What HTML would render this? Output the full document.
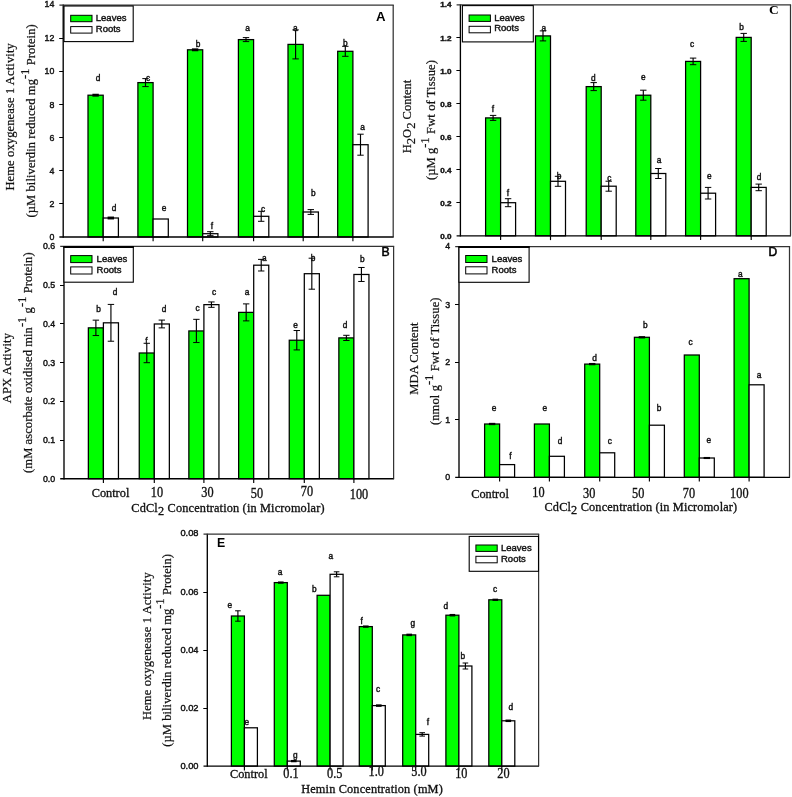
<!DOCTYPE html>
<html><head><meta charset="utf-8"><title>chart</title>
<style>
html,body{margin:0;padding:0;background:#fff;}
svg{display:block;filter:blur(0.35px)}
</style></head><body>
<svg width="792" height="797" viewBox="0 0 792 797">
<rect width="792" height="797" fill="#fff"/>
<rect x="88.00" y="95.20" width="15.20" height="141.80" fill="#00ff00" stroke="#000" stroke-width="1.25"/>
<rect x="103.20" y="218.00" width="15.20" height="19.00" fill="#fff" stroke="#000" stroke-width="1.25"/>
<line x1="92.40" y1="95.20" x2="98.80" y2="95.20" stroke="#000" stroke-width="2.9000000000000004"/>
<line x1="107.60" y1="218.00" x2="114.00" y2="218.00" stroke="#000" stroke-width="2.9000000000000004"/>
<rect x="137.90" y="82.60" width="15.20" height="154.40" fill="#00ff00" stroke="#000" stroke-width="1.25"/>
<rect x="153.10" y="219.00" width="15.20" height="18.00" fill="#fff" stroke="#000" stroke-width="1.25"/>
<line x1="145.50" y1="78.60" x2="145.50" y2="86.60" stroke="#000" stroke-width="1.15"/>
<line x1="142.30" y1="78.60" x2="148.70" y2="78.60" stroke="#000" stroke-width="1.0"/>
<line x1="142.30" y1="86.60" x2="148.70" y2="86.60" stroke="#000" stroke-width="1.0"/>
<rect x="187.50" y="49.80" width="15.20" height="187.20" fill="#00ff00" stroke="#000" stroke-width="1.25"/>
<rect x="202.70" y="233.70" width="15.20" height="3.30" fill="#fff" stroke="#000" stroke-width="1.25"/>
<line x1="191.90" y1="49.80" x2="198.30" y2="49.80" stroke="#000" stroke-width="2.9000000000000004"/>
<line x1="210.30" y1="231.70" x2="210.30" y2="235.70" stroke="#000" stroke-width="1.15"/>
<line x1="207.10" y1="231.70" x2="213.50" y2="231.70" stroke="#000" stroke-width="1.0"/>
<line x1="207.10" y1="235.70" x2="213.50" y2="235.70" stroke="#000" stroke-width="1.0"/>
<rect x="238.40" y="39.60" width="15.20" height="197.40" fill="#00ff00" stroke="#000" stroke-width="1.25"/>
<rect x="253.60" y="216.30" width="15.20" height="20.70" fill="#fff" stroke="#000" stroke-width="1.25"/>
<line x1="246.00" y1="37.60" x2="246.00" y2="41.60" stroke="#000" stroke-width="1.15"/>
<line x1="242.80" y1="37.60" x2="249.20" y2="37.60" stroke="#000" stroke-width="1.0"/>
<line x1="242.80" y1="41.60" x2="249.20" y2="41.60" stroke="#000" stroke-width="1.0"/>
<line x1="261.20" y1="211.30" x2="261.20" y2="221.30" stroke="#000" stroke-width="1.15"/>
<line x1="258.00" y1="211.30" x2="264.40" y2="211.30" stroke="#000" stroke-width="1.0"/>
<line x1="258.00" y1="221.30" x2="264.40" y2="221.30" stroke="#000" stroke-width="1.0"/>
<rect x="288.00" y="44.40" width="15.20" height="192.60" fill="#00ff00" stroke="#000" stroke-width="1.25"/>
<rect x="303.20" y="212.00" width="15.20" height="25.00" fill="#fff" stroke="#000" stroke-width="1.25"/>
<line x1="295.60" y1="29.90" x2="295.60" y2="58.90" stroke="#000" stroke-width="1.15"/>
<line x1="292.40" y1="29.90" x2="298.80" y2="29.90" stroke="#000" stroke-width="1.0"/>
<line x1="292.40" y1="58.90" x2="298.80" y2="58.90" stroke="#000" stroke-width="1.0"/>
<line x1="310.80" y1="209.60" x2="310.80" y2="214.40" stroke="#000" stroke-width="1.15"/>
<line x1="307.60" y1="209.60" x2="314.00" y2="209.60" stroke="#000" stroke-width="1.0"/>
<line x1="307.60" y1="214.40" x2="314.00" y2="214.40" stroke="#000" stroke-width="1.0"/>
<rect x="337.70" y="51.30" width="15.20" height="185.70" fill="#00ff00" stroke="#000" stroke-width="1.25"/>
<rect x="352.90" y="144.70" width="15.20" height="92.30" fill="#fff" stroke="#000" stroke-width="1.25"/>
<line x1="345.30" y1="46.30" x2="345.30" y2="56.30" stroke="#000" stroke-width="1.15"/>
<line x1="342.10" y1="46.30" x2="348.50" y2="46.30" stroke="#000" stroke-width="1.0"/>
<line x1="342.10" y1="56.30" x2="348.50" y2="56.30" stroke="#000" stroke-width="1.0"/>
<line x1="360.50" y1="134.20" x2="360.50" y2="155.20" stroke="#000" stroke-width="1.15"/>
<line x1="357.30" y1="134.20" x2="363.70" y2="134.20" stroke="#000" stroke-width="1.0"/>
<line x1="357.30" y1="155.20" x2="363.70" y2="155.20" stroke="#000" stroke-width="1.0"/>
<clipPath id="cpA"><rect x="63.2" y="5.2" width="330.0" height="231.8"/></clipPath>
<g clip-path="url(#cpA)">
<text x="376.00" y="20.50" font-family="Liberation Sans, sans-serif" font-size="13.2" text-anchor="start" font-weight="bold" fill="#000" stroke="#000" stroke-width="0">A</text>
</g>
<line x1="63.20" y1="4.60" x2="63.20" y2="237.70" stroke="#000" stroke-width="1.35"/>
<line x1="59.40" y1="237.00" x2="393.70" y2="237.00" stroke="#000" stroke-width="1.35"/>
<line x1="59.40" y1="5.00" x2="393.80" y2="5.00" stroke="#333" stroke-width="1.25"/>
<line x1="393.20" y1="5.00" x2="393.20" y2="237.00" stroke="#333" stroke-width="1.25"/>
<line x1="59.20" y1="203.50" x2="63.20" y2="203.50" stroke="#000" stroke-width="1.0"/>
<line x1="59.20" y1="170.50" x2="63.20" y2="170.50" stroke="#000" stroke-width="1.0"/>
<line x1="59.20" y1="137.50" x2="63.20" y2="137.50" stroke="#000" stroke-width="1.0"/>
<line x1="59.20" y1="104.50" x2="63.20" y2="104.50" stroke="#000" stroke-width="1.0"/>
<line x1="59.20" y1="71.50" x2="63.20" y2="71.50" stroke="#000" stroke-width="1.0"/>
<line x1="59.20" y1="38.50" x2="63.20" y2="38.50" stroke="#000" stroke-width="1.0"/>
<text x="54.40" y="240.10" font-family="Liberation Sans, sans-serif" font-size="8.8" text-anchor="end" font-weight="normal" fill="#111" stroke="#111" stroke-width="0.42">0</text>
<text x="54.40" y="206.96" font-family="Liberation Sans, sans-serif" font-size="8.8" text-anchor="end" font-weight="normal" fill="#111" stroke="#111" stroke-width="0.42">2</text>
<text x="54.40" y="173.82" font-family="Liberation Sans, sans-serif" font-size="8.8" text-anchor="end" font-weight="normal" fill="#111" stroke="#111" stroke-width="0.42">4</text>
<text x="54.40" y="140.68" font-family="Liberation Sans, sans-serif" font-size="8.8" text-anchor="end" font-weight="normal" fill="#111" stroke="#111" stroke-width="0.42">6</text>
<text x="54.40" y="107.54" font-family="Liberation Sans, sans-serif" font-size="8.8" text-anchor="end" font-weight="normal" fill="#111" stroke="#111" stroke-width="0.42">8</text>
<text x="54.40" y="74.40" font-family="Liberation Sans, sans-serif" font-size="8.8" text-anchor="end" font-weight="normal" fill="#111" stroke="#111" stroke-width="0.42">10</text>
<text x="54.40" y="41.26" font-family="Liberation Sans, sans-serif" font-size="8.8" text-anchor="end" font-weight="normal" fill="#111" stroke="#111" stroke-width="0.42">12</text>
<text x="54.40" y="7.42" font-family="Liberation Sans, sans-serif" font-size="8.8" text-anchor="end" font-weight="normal" fill="#111" stroke="#111" stroke-width="0.42">14</text>
<line x1="103.20" y1="237.00" x2="103.20" y2="241.30" stroke="#000" stroke-width="1.15"/>
<line x1="153.10" y1="237.00" x2="153.10" y2="241.30" stroke="#000" stroke-width="1.15"/>
<line x1="202.70" y1="237.00" x2="202.70" y2="241.30" stroke="#000" stroke-width="1.15"/>
<line x1="253.60" y1="237.00" x2="253.60" y2="241.30" stroke="#000" stroke-width="1.15"/>
<line x1="303.20" y1="237.00" x2="303.20" y2="241.30" stroke="#000" stroke-width="1.15"/>
<line x1="352.90" y1="237.00" x2="352.90" y2="241.30" stroke="#000" stroke-width="1.15"/>
<rect x="64.00" y="6.00" width="69.20" height="35.60" fill="#fff" stroke="#000" stroke-width="1.1"/>
<rect x="70.70" y="15.30" width="21.30" height="6.40" fill="#00ff00" stroke="#000" stroke-width="1.0"/>
<rect x="70.70" y="26.60" width="21.30" height="6.50" fill="#fff" stroke="#000" stroke-width="1.0"/>
<text x="95.80" y="20.90" font-family="Liberation Sans, sans-serif" font-size="9.5" text-anchor="start" font-weight="normal" fill="#111" stroke="#111" stroke-width="0.42">Leaves</text>
<text x="95.80" y="31.60" font-family="Liberation Sans, sans-serif" font-size="9.5" text-anchor="start" font-weight="normal" fill="#111" stroke="#111" stroke-width="0.42">Roots</text>
<text x="98.00" y="80.90" font-family="Liberation Sans, sans-serif" font-size="8.3" text-anchor="middle" font-weight="normal" fill="#111" stroke="#111" stroke-width="0.42">d</text>
<text x="148.00" y="81.10" font-family="Liberation Sans, sans-serif" font-size="8.3" text-anchor="middle" font-weight="normal" fill="#111" stroke="#111" stroke-width="0.42">c</text>
<text x="198.00" y="47.10" font-family="Liberation Sans, sans-serif" font-size="8.3" text-anchor="middle" font-weight="normal" fill="#111" stroke="#111" stroke-width="0.42">b</text>
<text x="247.60" y="30.90" font-family="Liberation Sans, sans-serif" font-size="8.3" text-anchor="middle" font-weight="normal" fill="#111" stroke="#111" stroke-width="0.42">a</text>
<text x="295.40" y="30.50" font-family="Liberation Sans, sans-serif" font-size="8.3" text-anchor="middle" font-weight="normal" fill="#111" stroke="#111" stroke-width="0.42">a</text>
<text x="345.40" y="46.30" font-family="Liberation Sans, sans-serif" font-size="8.3" text-anchor="middle" font-weight="normal" fill="#111" stroke="#111" stroke-width="0.42">b</text>
<text x="114.00" y="211.40" font-family="Liberation Sans, sans-serif" font-size="8.3" text-anchor="middle" font-weight="normal" fill="#111" stroke="#111" stroke-width="0.42">d</text>
<text x="164.00" y="211.20" font-family="Liberation Sans, sans-serif" font-size="8.3" text-anchor="middle" font-weight="normal" fill="#111" stroke="#111" stroke-width="0.42">e</text>
<text x="212.00" y="228.90" font-family="Liberation Sans, sans-serif" font-size="8.3" text-anchor="middle" font-weight="normal" fill="#111" stroke="#111" stroke-width="0.42">f</text>
<text x="263.20" y="212.30" font-family="Liberation Sans, sans-serif" font-size="8.3" text-anchor="middle" font-weight="normal" fill="#111" stroke="#111" stroke-width="0.42">c</text>
<text x="313.20" y="195.90" font-family="Liberation Sans, sans-serif" font-size="8.3" text-anchor="middle" font-weight="normal" fill="#111" stroke="#111" stroke-width="0.42">b</text>
<text x="362.50" y="129.90" font-family="Liberation Sans, sans-serif" font-size="8.3" text-anchor="middle" font-weight="normal" fill="#111" stroke="#111" stroke-width="0.42">a</text>
<text x="14.00" y="190.60" font-family="Liberation Serif, serif" font-size="12.5" text-anchor="start" font-weight="normal" fill="#111" stroke="#111" stroke-width="0.22" transform="rotate(-90 14.00 190.60)" textLength="147.4" lengthAdjust="spacing">Heme oxygenease 1 Activity</text>
<text x="35.00" y="217.50" font-family="Liberation Serif, serif" font-size="12.5" text-anchor="start" font-weight="normal" fill="#111" stroke="#111" stroke-width="0.22" transform="rotate(-90 35.00 217.50)" textLength="193.2" lengthAdjust="spacing">(&#181;M biliverdin reduced mg<tspan font-size="98%" dy="-6.4">-1</tspan><tspan dy="6.4">&#8203;</tspan> Protein)</text>
<rect x="88.35" y="327.85" width="15.05" height="150.85" fill="#00ff00" stroke="#000" stroke-width="1.25"/>
<rect x="103.40" y="322.82" width="15.05" height="155.88" fill="#fff" stroke="#000" stroke-width="1.25"/>
<line x1="95.88" y1="320.15" x2="95.88" y2="335.55" stroke="#000" stroke-width="1.15"/>
<line x1="92.67" y1="320.15" x2="99.08" y2="320.15" stroke="#000" stroke-width="1.0"/>
<line x1="92.67" y1="335.55" x2="99.08" y2="335.55" stroke="#000" stroke-width="1.0"/>
<line x1="110.93" y1="304.42" x2="110.93" y2="341.22" stroke="#000" stroke-width="1.15"/>
<line x1="107.73" y1="304.42" x2="114.13" y2="304.42" stroke="#000" stroke-width="1.0"/>
<line x1="107.73" y1="341.22" x2="114.13" y2="341.22" stroke="#000" stroke-width="1.0"/>
<rect x="139.25" y="352.99" width="15.05" height="125.71" fill="#00ff00" stroke="#000" stroke-width="1.25"/>
<rect x="154.30" y="323.98" width="15.05" height="154.72" fill="#fff" stroke="#000" stroke-width="1.25"/>
<line x1="146.78" y1="343.29" x2="146.78" y2="362.69" stroke="#000" stroke-width="1.15"/>
<line x1="143.58" y1="343.29" x2="149.97" y2="343.29" stroke="#000" stroke-width="1.0"/>
<line x1="143.58" y1="362.69" x2="149.97" y2="362.69" stroke="#000" stroke-width="1.0"/>
<line x1="161.83" y1="320.08" x2="161.83" y2="327.88" stroke="#000" stroke-width="1.15"/>
<line x1="158.63" y1="320.08" x2="165.03" y2="320.08" stroke="#000" stroke-width="1.0"/>
<line x1="158.63" y1="327.88" x2="165.03" y2="327.88" stroke="#000" stroke-width="1.0"/>
<rect x="188.85" y="330.94" width="15.05" height="147.76" fill="#00ff00" stroke="#000" stroke-width="1.25"/>
<rect x="203.90" y="304.64" width="15.05" height="174.06" fill="#fff" stroke="#000" stroke-width="1.25"/>
<line x1="196.38" y1="319.34" x2="196.38" y2="342.54" stroke="#000" stroke-width="1.15"/>
<line x1="193.18" y1="319.34" x2="199.57" y2="319.34" stroke="#000" stroke-width="1.0"/>
<line x1="193.18" y1="342.54" x2="199.57" y2="342.54" stroke="#000" stroke-width="1.0"/>
<line x1="211.43" y1="301.94" x2="211.43" y2="307.34" stroke="#000" stroke-width="1.15"/>
<line x1="208.23" y1="301.94" x2="214.62" y2="301.94" stroke="#000" stroke-width="1.0"/>
<line x1="208.23" y1="307.34" x2="214.62" y2="307.34" stroke="#000" stroke-width="1.0"/>
<rect x="238.65" y="312.38" width="15.05" height="166.32" fill="#00ff00" stroke="#000" stroke-width="1.25"/>
<rect x="253.70" y="265.19" width="15.05" height="213.51" fill="#fff" stroke="#000" stroke-width="1.25"/>
<line x1="246.17" y1="303.88" x2="246.17" y2="320.88" stroke="#000" stroke-width="1.15"/>
<line x1="242.97" y1="303.88" x2="249.37" y2="303.88" stroke="#000" stroke-width="1.0"/>
<line x1="242.97" y1="320.88" x2="249.37" y2="320.88" stroke="#000" stroke-width="1.0"/>
<line x1="261.22" y1="259.39" x2="261.22" y2="270.99" stroke="#000" stroke-width="1.15"/>
<line x1="258.02" y1="259.39" x2="264.42" y2="259.39" stroke="#000" stroke-width="1.0"/>
<line x1="258.02" y1="270.99" x2="264.42" y2="270.99" stroke="#000" stroke-width="1.0"/>
<rect x="289.25" y="340.23" width="15.05" height="138.47" fill="#00ff00" stroke="#000" stroke-width="1.25"/>
<rect x="304.30" y="273.70" width="15.05" height="205.00" fill="#fff" stroke="#000" stroke-width="1.25"/>
<line x1="296.78" y1="330.53" x2="296.78" y2="349.93" stroke="#000" stroke-width="1.15"/>
<line x1="293.58" y1="330.53" x2="299.98" y2="330.53" stroke="#000" stroke-width="1.0"/>
<line x1="293.58" y1="349.93" x2="299.98" y2="349.93" stroke="#000" stroke-width="1.0"/>
<line x1="311.82" y1="258.20" x2="311.82" y2="289.20" stroke="#000" stroke-width="1.15"/>
<line x1="308.62" y1="258.20" x2="315.02" y2="258.20" stroke="#000" stroke-width="1.0"/>
<line x1="308.62" y1="289.20" x2="315.02" y2="289.20" stroke="#000" stroke-width="1.0"/>
<rect x="338.85" y="337.90" width="15.05" height="140.80" fill="#00ff00" stroke="#000" stroke-width="1.25"/>
<rect x="353.90" y="274.47" width="15.05" height="204.23" fill="#fff" stroke="#000" stroke-width="1.25"/>
<line x1="346.38" y1="335.30" x2="346.38" y2="340.50" stroke="#000" stroke-width="1.15"/>
<line x1="343.18" y1="335.30" x2="349.57" y2="335.30" stroke="#000" stroke-width="1.0"/>
<line x1="343.18" y1="340.50" x2="349.57" y2="340.50" stroke="#000" stroke-width="1.0"/>
<line x1="361.42" y1="267.47" x2="361.42" y2="281.47" stroke="#000" stroke-width="1.15"/>
<line x1="358.22" y1="267.47" x2="364.62" y2="267.47" stroke="#000" stroke-width="1.0"/>
<line x1="358.22" y1="281.47" x2="364.62" y2="281.47" stroke="#000" stroke-width="1.0"/>
<clipPath id="cpB"><rect x="64.0" y="246.6" width="329.6" height="232.1"/></clipPath>
<g clip-path="url(#cpB)">
<text x="381.60" y="256.00" font-family="Liberation Sans, sans-serif" font-size="12.2" text-anchor="start" font-weight="normal" fill="#000" stroke="#000" stroke-width="0.55">B</text>
</g>
<line x1="64.00" y1="246.00" x2="64.00" y2="479.40" stroke="#000" stroke-width="1.35"/>
<line x1="60.20" y1="478.70" x2="394.10" y2="478.70" stroke="#000" stroke-width="1.35"/>
<line x1="60.20" y1="246.40" x2="394.20" y2="246.40" stroke="#333" stroke-width="1.25"/>
<line x1="393.60" y1="246.40" x2="393.60" y2="478.70" stroke="#333" stroke-width="1.25"/>
<line x1="60.00" y1="440.50" x2="64.00" y2="440.50" stroke="#000" stroke-width="1.0"/>
<line x1="60.00" y1="401.50" x2="64.00" y2="401.50" stroke="#000" stroke-width="1.0"/>
<line x1="60.00" y1="362.50" x2="64.00" y2="362.50" stroke="#000" stroke-width="1.0"/>
<line x1="60.00" y1="323.50" x2="64.00" y2="323.50" stroke="#000" stroke-width="1.0"/>
<line x1="60.00" y1="285.50" x2="64.00" y2="285.50" stroke="#000" stroke-width="1.0"/>
<text x="55.20" y="481.80" font-family="Liberation Sans, sans-serif" font-size="8.8" text-anchor="end" font-weight="normal" fill="#111" stroke="#111" stroke-width="0.42">0.0</text>
<text x="55.20" y="443.12" font-family="Liberation Sans, sans-serif" font-size="8.8" text-anchor="end" font-weight="normal" fill="#111" stroke="#111" stroke-width="0.42">0.1</text>
<text x="55.20" y="404.44" font-family="Liberation Sans, sans-serif" font-size="8.8" text-anchor="end" font-weight="normal" fill="#111" stroke="#111" stroke-width="0.42">0.2</text>
<text x="55.20" y="365.76" font-family="Liberation Sans, sans-serif" font-size="8.8" text-anchor="end" font-weight="normal" fill="#111" stroke="#111" stroke-width="0.42">0.3</text>
<text x="55.20" y="327.08" font-family="Liberation Sans, sans-serif" font-size="8.8" text-anchor="end" font-weight="normal" fill="#111" stroke="#111" stroke-width="0.42">0.4</text>
<text x="55.20" y="288.40" font-family="Liberation Sans, sans-serif" font-size="8.8" text-anchor="end" font-weight="normal" fill="#111" stroke="#111" stroke-width="0.42">0.5</text>
<text x="55.20" y="249.02" font-family="Liberation Sans, sans-serif" font-size="8.8" text-anchor="end" font-weight="normal" fill="#111" stroke="#111" stroke-width="0.42">0.6</text>
<line x1="103.40" y1="478.70" x2="103.40" y2="483.00" stroke="#000" stroke-width="1.15"/>
<line x1="154.30" y1="478.70" x2="154.30" y2="483.00" stroke="#000" stroke-width="1.15"/>
<line x1="203.90" y1="478.70" x2="203.90" y2="483.00" stroke="#000" stroke-width="1.15"/>
<line x1="253.70" y1="478.70" x2="253.70" y2="483.00" stroke="#000" stroke-width="1.15"/>
<line x1="304.30" y1="478.70" x2="304.30" y2="483.00" stroke="#000" stroke-width="1.15"/>
<line x1="353.90" y1="478.70" x2="353.90" y2="483.00" stroke="#000" stroke-width="1.15"/>
<rect x="64.00" y="246.60" width="69.30" height="35.60" fill="#fff" stroke="#000" stroke-width="1.1"/>
<rect x="70.70" y="255.60" width="21.30" height="7.00" fill="#00ff00" stroke="#000" stroke-width="1.0"/>
<rect x="70.70" y="266.90" width="21.30" height="7.10" fill="#fff" stroke="#000" stroke-width="1.0"/>
<text x="96.60" y="262.20" font-family="Liberation Sans, sans-serif" font-size="9.5" text-anchor="start" font-weight="normal" fill="#111" stroke="#111" stroke-width="0.42">Leaves</text>
<text x="96.60" y="272.90" font-family="Liberation Sans, sans-serif" font-size="9.5" text-anchor="start" font-weight="normal" fill="#111" stroke="#111" stroke-width="0.42">Roots</text>
<line x1="63.50" y1="246.90" x2="133.80" y2="246.90" stroke="#000" stroke-width="2.0"/>
<text x="98.50" y="311.60" font-family="Liberation Sans, sans-serif" font-size="8.3" text-anchor="middle" font-weight="normal" fill="#111" stroke="#111" stroke-width="0.42">b</text>
<text x="146.50" y="343.50" font-family="Liberation Sans, sans-serif" font-size="8.3" text-anchor="middle" font-weight="normal" fill="#111" stroke="#111" stroke-width="0.42">f</text>
<text x="197.50" y="311.30" font-family="Liberation Sans, sans-serif" font-size="8.3" text-anchor="middle" font-weight="normal" fill="#111" stroke="#111" stroke-width="0.42">c</text>
<text x="247.10" y="295.30" font-family="Liberation Sans, sans-serif" font-size="8.3" text-anchor="middle" font-weight="normal" fill="#111" stroke="#111" stroke-width="0.42">a</text>
<text x="295.60" y="327.90" font-family="Liberation Sans, sans-serif" font-size="8.3" text-anchor="middle" font-weight="normal" fill="#111" stroke="#111" stroke-width="0.42">e</text>
<text x="345.10" y="328.30" font-family="Liberation Sans, sans-serif" font-size="8.3" text-anchor="middle" font-weight="normal" fill="#111" stroke="#111" stroke-width="0.42">d</text>
<text x="115.00" y="294.90" font-family="Liberation Sans, sans-serif" font-size="8.3" text-anchor="middle" font-weight="normal" fill="#111" stroke="#111" stroke-width="0.42">d</text>
<text x="164.00" y="311.60" font-family="Liberation Sans, sans-serif" font-size="8.3" text-anchor="middle" font-weight="normal" fill="#111" stroke="#111" stroke-width="0.42">d</text>
<text x="214.00" y="294.90" font-family="Liberation Sans, sans-serif" font-size="8.3" text-anchor="middle" font-weight="normal" fill="#111" stroke="#111" stroke-width="0.42">c</text>
<text x="264.20" y="261.30" font-family="Liberation Sans, sans-serif" font-size="8.3" text-anchor="middle" font-weight="normal" fill="#111" stroke="#111" stroke-width="0.42">a</text>
<text x="313.00" y="261.30" font-family="Liberation Sans, sans-serif" font-size="8.3" text-anchor="middle" font-weight="normal" fill="#111" stroke="#111" stroke-width="0.42">b</text>
<text x="362.40" y="261.70" font-family="Liberation Sans, sans-serif" font-size="8.3" text-anchor="middle" font-weight="normal" fill="#111" stroke="#111" stroke-width="0.42">b</text>
<text x="110.50" y="497.30" font-family="Liberation Serif, serif" font-size="12.3" text-anchor="middle" font-weight="normal" fill="#111" stroke="#111" stroke-width="0.32" textLength="37.6" lengthAdjust="spacing">Control</text>
<g transform="translate(157.00 496.50) scale(1 1.12)">
<text x="0.00" y="0.00" font-family="Liberation Serif, serif" font-size="12.3" text-anchor="middle" font-weight="normal" fill="#111" stroke="#111" stroke-width="0.32">10</text>
</g>
<g transform="translate(207.50 497.00) scale(1 1.12)">
<text x="0.00" y="0.00" font-family="Liberation Serif, serif" font-size="12.3" text-anchor="middle" font-weight="normal" fill="#111" stroke="#111" stroke-width="0.32">30</text>
</g>
<g transform="translate(257.00 497.50) scale(1 1.12)">
<text x="0.00" y="0.00" font-family="Liberation Serif, serif" font-size="12.3" text-anchor="middle" font-weight="normal" fill="#111" stroke="#111" stroke-width="0.32">50</text>
</g>
<g transform="translate(307.00 496.00) scale(1 1.12)">
<text x="0.00" y="0.00" font-family="Liberation Serif, serif" font-size="12.3" text-anchor="middle" font-weight="normal" fill="#111" stroke="#111" stroke-width="0.32">70</text>
</g>
<g transform="translate(359.00 498.50) scale(1 1.12)">
<text x="0.00" y="0.00" font-family="Liberation Serif, serif" font-size="12.3" text-anchor="middle" font-weight="normal" fill="#111" stroke="#111" stroke-width="0.32">100</text>
</g>
<text x="11.40" y="403.20" font-family="Liberation Serif, serif" font-size="12.5" text-anchor="start" font-weight="normal" fill="#111" stroke="#111" stroke-width="0.22" transform="rotate(-90 11.40 403.20)" textLength="70.1" lengthAdjust="spacing">APX Activity</text>
<text x="32.20" y="472.90" font-family="Liberation Serif, serif" font-size="12.5" text-anchor="start" font-weight="normal" fill="#111" stroke="#111" stroke-width="0.22" transform="rotate(-90 32.20 472.90)" textLength="220.5" lengthAdjust="spacing">(mM ascorbate oxidised min<tspan font-size="98%" dy="-6.4">-1</tspan><tspan dy="6.4">&#8203;</tspan> g<tspan font-size="98%" dy="-6.4">-1</tspan><tspan dy="6.4">&#8203;</tspan> Protein)</text>
<text x="131.30" y="511.50" font-family="Liberation Serif, serif" font-size="12.3" text-anchor="start" font-weight="normal" fill="#111" stroke="#111" stroke-width="0.32" textLength="193.2" lengthAdjust="spacing">CdCl<tspan font-size="100%" dy="3.4">2</tspan><tspan dy="-3.4">&#8203;</tspan> Concentration (in Micromolar)</text>
<rect x="485.60" y="117.90" width="15.00" height="117.90" fill="#00ff00" stroke="#000" stroke-width="1.25"/>
<rect x="500.60" y="202.70" width="15.00" height="33.10" fill="#fff" stroke="#000" stroke-width="1.25"/>
<line x1="493.10" y1="115.40" x2="493.10" y2="120.40" stroke="#000" stroke-width="1.15"/>
<line x1="489.90" y1="115.40" x2="496.30" y2="115.40" stroke="#000" stroke-width="1.0"/>
<line x1="489.90" y1="120.40" x2="496.30" y2="120.40" stroke="#000" stroke-width="1.0"/>
<line x1="508.10" y1="198.70" x2="508.10" y2="206.70" stroke="#000" stroke-width="1.15"/>
<line x1="504.90" y1="198.70" x2="511.30" y2="198.70" stroke="#000" stroke-width="1.0"/>
<line x1="504.90" y1="206.70" x2="511.30" y2="206.70" stroke="#000" stroke-width="1.0"/>
<rect x="535.50" y="35.90" width="15.00" height="199.90" fill="#00ff00" stroke="#000" stroke-width="1.25"/>
<rect x="550.50" y="181.30" width="15.00" height="54.50" fill="#fff" stroke="#000" stroke-width="1.25"/>
<line x1="543.00" y1="30.90" x2="543.00" y2="40.90" stroke="#000" stroke-width="1.15"/>
<line x1="539.80" y1="30.90" x2="546.20" y2="30.90" stroke="#000" stroke-width="1.0"/>
<line x1="539.80" y1="40.90" x2="546.20" y2="40.90" stroke="#000" stroke-width="1.0"/>
<line x1="558.00" y1="176.30" x2="558.00" y2="186.30" stroke="#000" stroke-width="1.15"/>
<line x1="554.80" y1="176.30" x2="561.20" y2="176.30" stroke="#000" stroke-width="1.0"/>
<line x1="554.80" y1="186.30" x2="561.20" y2="186.30" stroke="#000" stroke-width="1.0"/>
<rect x="586.20" y="86.60" width="15.00" height="149.20" fill="#00ff00" stroke="#000" stroke-width="1.25"/>
<rect x="601.20" y="186.20" width="15.00" height="49.60" fill="#fff" stroke="#000" stroke-width="1.25"/>
<line x1="593.70" y1="82.60" x2="593.70" y2="90.60" stroke="#000" stroke-width="1.15"/>
<line x1="590.50" y1="82.60" x2="596.90" y2="82.60" stroke="#000" stroke-width="1.0"/>
<line x1="590.50" y1="90.60" x2="596.90" y2="90.60" stroke="#000" stroke-width="1.0"/>
<line x1="608.70" y1="181.20" x2="608.70" y2="191.20" stroke="#000" stroke-width="1.15"/>
<line x1="605.50" y1="181.20" x2="611.90" y2="181.20" stroke="#000" stroke-width="1.0"/>
<line x1="605.50" y1="191.20" x2="611.90" y2="191.20" stroke="#000" stroke-width="1.0"/>
<rect x="635.80" y="95.20" width="15.00" height="140.60" fill="#00ff00" stroke="#000" stroke-width="1.25"/>
<rect x="650.80" y="173.50" width="15.00" height="62.30" fill="#fff" stroke="#000" stroke-width="1.25"/>
<line x1="643.30" y1="90.20" x2="643.30" y2="100.20" stroke="#000" stroke-width="1.15"/>
<line x1="640.10" y1="90.20" x2="646.50" y2="90.20" stroke="#000" stroke-width="1.0"/>
<line x1="640.10" y1="100.20" x2="646.50" y2="100.20" stroke="#000" stroke-width="1.0"/>
<line x1="658.30" y1="168.50" x2="658.30" y2="178.50" stroke="#000" stroke-width="1.15"/>
<line x1="655.10" y1="168.50" x2="661.50" y2="168.50" stroke="#000" stroke-width="1.0"/>
<line x1="655.10" y1="178.50" x2="661.50" y2="178.50" stroke="#000" stroke-width="1.0"/>
<rect x="685.60" y="61.40" width="15.00" height="174.40" fill="#00ff00" stroke="#000" stroke-width="1.25"/>
<rect x="700.60" y="193.20" width="15.00" height="42.60" fill="#fff" stroke="#000" stroke-width="1.25"/>
<line x1="693.10" y1="58.10" x2="693.10" y2="64.70" stroke="#000" stroke-width="1.15"/>
<line x1="689.90" y1="58.10" x2="696.30" y2="58.10" stroke="#000" stroke-width="1.0"/>
<line x1="689.90" y1="64.70" x2="696.30" y2="64.70" stroke="#000" stroke-width="1.0"/>
<line x1="708.10" y1="187.40" x2="708.10" y2="199.00" stroke="#000" stroke-width="1.15"/>
<line x1="704.90" y1="187.40" x2="711.30" y2="187.40" stroke="#000" stroke-width="1.0"/>
<line x1="704.90" y1="199.00" x2="711.30" y2="199.00" stroke="#000" stroke-width="1.0"/>
<rect x="736.20" y="37.40" width="15.00" height="198.40" fill="#00ff00" stroke="#000" stroke-width="1.25"/>
<rect x="751.20" y="187.40" width="15.00" height="48.40" fill="#fff" stroke="#000" stroke-width="1.25"/>
<line x1="743.70" y1="33.40" x2="743.70" y2="41.40" stroke="#000" stroke-width="1.15"/>
<line x1="740.50" y1="33.40" x2="746.90" y2="33.40" stroke="#000" stroke-width="1.0"/>
<line x1="740.50" y1="41.40" x2="746.90" y2="41.40" stroke="#000" stroke-width="1.0"/>
<line x1="758.70" y1="184.10" x2="758.70" y2="190.70" stroke="#000" stroke-width="1.15"/>
<line x1="755.50" y1="184.10" x2="761.90" y2="184.10" stroke="#000" stroke-width="1.0"/>
<line x1="755.50" y1="190.70" x2="761.90" y2="190.70" stroke="#000" stroke-width="1.0"/>
<clipPath id="cpC"><rect x="460.4" y="5.0" width="330.1" height="230.8"/></clipPath>
<g clip-path="url(#cpC)">
<text x="768.90" y="13.90" font-family="Liberation Serif, serif" font-size="13.4" text-anchor="start" font-weight="bold" fill="#000" stroke="#000" stroke-width="0">C</text>
</g>
<line x1="460.40" y1="4.40" x2="460.40" y2="236.50" stroke="#000" stroke-width="1.35"/>
<line x1="456.60" y1="235.80" x2="791.00" y2="235.80" stroke="#000" stroke-width="1.35"/>
<line x1="456.60" y1="4.80" x2="791.10" y2="4.80" stroke="#333" stroke-width="1.25"/>
<line x1="790.50" y1="4.80" x2="790.50" y2="235.80" stroke="#333" stroke-width="1.25"/>
<line x1="456.40" y1="202.50" x2="460.40" y2="202.50" stroke="#000" stroke-width="1.0"/>
<line x1="456.40" y1="169.50" x2="460.40" y2="169.50" stroke="#000" stroke-width="1.0"/>
<line x1="456.40" y1="136.50" x2="460.40" y2="136.50" stroke="#000" stroke-width="1.0"/>
<line x1="456.40" y1="103.50" x2="460.40" y2="103.50" stroke="#000" stroke-width="1.0"/>
<line x1="456.40" y1="70.50" x2="460.40" y2="70.50" stroke="#000" stroke-width="1.0"/>
<line x1="456.40" y1="37.50" x2="460.40" y2="37.50" stroke="#000" stroke-width="1.0"/>
<text x="451.60" y="238.90" font-family="Liberation Sans, sans-serif" font-size="8.1" text-anchor="end" font-weight="bold" fill="#111" stroke="#111" stroke-width="0.42">0.0</text>
<text x="451.60" y="205.93" font-family="Liberation Sans, sans-serif" font-size="8.1" text-anchor="end" font-weight="bold" fill="#111" stroke="#111" stroke-width="0.42">0.2</text>
<text x="451.60" y="172.96" font-family="Liberation Sans, sans-serif" font-size="8.1" text-anchor="end" font-weight="bold" fill="#111" stroke="#111" stroke-width="0.42">0.4</text>
<text x="451.60" y="139.98" font-family="Liberation Sans, sans-serif" font-size="8.1" text-anchor="end" font-weight="bold" fill="#111" stroke="#111" stroke-width="0.42">0.6</text>
<text x="451.60" y="107.01" font-family="Liberation Sans, sans-serif" font-size="8.1" text-anchor="end" font-weight="bold" fill="#111" stroke="#111" stroke-width="0.42">0.8</text>
<text x="451.60" y="74.04" font-family="Liberation Sans, sans-serif" font-size="8.1" text-anchor="end" font-weight="bold" fill="#111" stroke="#111" stroke-width="0.42">1.0</text>
<text x="451.60" y="41.07" font-family="Liberation Sans, sans-serif" font-size="8.1" text-anchor="end" font-weight="bold" fill="#111" stroke="#111" stroke-width="0.42">1.2</text>
<text x="451.60" y="7.40" font-family="Liberation Sans, sans-serif" font-size="8.1" text-anchor="end" font-weight="bold" fill="#111" stroke="#111" stroke-width="0.42">1.4</text>
<line x1="500.60" y1="235.80" x2="500.60" y2="240.10" stroke="#000" stroke-width="1.15"/>
<line x1="550.50" y1="235.80" x2="550.50" y2="240.10" stroke="#000" stroke-width="1.15"/>
<line x1="601.20" y1="235.80" x2="601.20" y2="240.10" stroke="#000" stroke-width="1.15"/>
<line x1="650.80" y1="235.80" x2="650.80" y2="240.10" stroke="#000" stroke-width="1.15"/>
<line x1="700.60" y1="235.80" x2="700.60" y2="240.10" stroke="#000" stroke-width="1.15"/>
<line x1="751.20" y1="235.80" x2="751.20" y2="240.10" stroke="#000" stroke-width="1.15"/>
<rect x="462.40" y="5.60" width="70.90" height="36.30" fill="#fff" stroke="#000" stroke-width="1.1"/>
<rect x="469.10" y="15.00" width="21.30" height="6.40" fill="#00ff00" stroke="#000" stroke-width="1.0"/>
<rect x="469.10" y="26.30" width="21.30" height="6.50" fill="#fff" stroke="#000" stroke-width="1.0"/>
<text x="494.20" y="20.60" font-family="Liberation Sans, sans-serif" font-size="9.5" text-anchor="start" font-weight="normal" fill="#111" stroke="#111" stroke-width="0.42">Leaves</text>
<text x="494.20" y="31.30" font-family="Liberation Sans, sans-serif" font-size="9.5" text-anchor="start" font-weight="normal" fill="#111" stroke="#111" stroke-width="0.42">Roots</text>
<text x="493.00" y="112.30" font-family="Liberation Sans, sans-serif" font-size="8.3" text-anchor="middle" font-weight="normal" fill="#111" stroke="#111" stroke-width="0.42">f</text>
<text x="543.80" y="31.30" font-family="Liberation Sans, sans-serif" font-size="8.3" text-anchor="middle" font-weight="normal" fill="#111" stroke="#111" stroke-width="0.42">a</text>
<text x="593.20" y="80.90" font-family="Liberation Sans, sans-serif" font-size="8.3" text-anchor="middle" font-weight="normal" fill="#111" stroke="#111" stroke-width="0.42">d</text>
<text x="643.30" y="80.10" font-family="Liberation Sans, sans-serif" font-size="8.3" text-anchor="middle" font-weight="normal" fill="#111" stroke="#111" stroke-width="0.42">e</text>
<text x="692.00" y="46.60" font-family="Liberation Sans, sans-serif" font-size="8.3" text-anchor="middle" font-weight="normal" fill="#111" stroke="#111" stroke-width="0.42">c</text>
<text x="741.50" y="30.10" font-family="Liberation Sans, sans-serif" font-size="8.3" text-anchor="middle" font-weight="normal" fill="#111" stroke="#111" stroke-width="0.42">b</text>
<text x="507.80" y="195.90" font-family="Liberation Sans, sans-serif" font-size="8.3" text-anchor="middle" font-weight="normal" fill="#111" stroke="#111" stroke-width="0.42">f</text>
<text x="559.00" y="178.90" font-family="Liberation Sans, sans-serif" font-size="8.3" text-anchor="middle" font-weight="normal" fill="#111" stroke="#111" stroke-width="0.42">b</text>
<text x="609.30" y="180.60" font-family="Liberation Sans, sans-serif" font-size="8.3" text-anchor="middle" font-weight="normal" fill="#111" stroke="#111" stroke-width="0.42">c</text>
<text x="659.00" y="162.60" font-family="Liberation Sans, sans-serif" font-size="8.3" text-anchor="middle" font-weight="normal" fill="#111" stroke="#111" stroke-width="0.42">a</text>
<text x="709.30" y="179.40" font-family="Liberation Sans, sans-serif" font-size="8.3" text-anchor="middle" font-weight="normal" fill="#111" stroke="#111" stroke-width="0.42">e</text>
<text x="759.00" y="179.60" font-family="Liberation Sans, sans-serif" font-size="8.3" text-anchor="middle" font-weight="normal" fill="#111" stroke="#111" stroke-width="0.42">d</text>
<text x="411.40" y="153.20" font-family="Liberation Serif, serif" font-size="12.5" text-anchor="start" font-weight="normal" fill="#111" stroke="#111" stroke-width="0.22" transform="rotate(-90 411.40 153.20)" textLength="73.4" lengthAdjust="spacing">H<tspan font-size="100%" dy="3.4">2</tspan><tspan dy="-3.4">&#8203;</tspan>O<tspan font-size="100%" dy="3.4">2</tspan><tspan dy="-3.4">&#8203;</tspan> Content</text>
<text x="435.20" y="180.10" font-family="Liberation Serif, serif" font-size="12.5" text-anchor="start" font-weight="normal" fill="#111" stroke="#111" stroke-width="0.22" transform="rotate(-90 435.20 180.10)" textLength="120.0" lengthAdjust="spacing">(&#181;M g<tspan font-size="98%" dy="-6.4">-1</tspan><tspan dy="6.4">&#8203;</tspan> Fwt of Tissue)</text>
<rect x="484.60" y="424.00" width="15.00" height="53.30" fill="#00ff00" stroke="#000" stroke-width="1.25"/>
<rect x="499.60" y="464.60" width="15.00" height="12.70" fill="#fff" stroke="#000" stroke-width="1.25"/>
<line x1="488.90" y1="424.00" x2="495.30" y2="424.00" stroke="#000" stroke-width="2.3"/>
<rect x="534.40" y="424.00" width="15.00" height="53.30" fill="#00ff00" stroke="#000" stroke-width="1.25"/>
<rect x="549.40" y="456.30" width="15.00" height="21.00" fill="#fff" stroke="#000" stroke-width="1.25"/>
<rect x="584.70" y="364.10" width="15.00" height="113.20" fill="#00ff00" stroke="#000" stroke-width="1.25"/>
<rect x="599.70" y="452.80" width="15.00" height="24.50" fill="#fff" stroke="#000" stroke-width="1.25"/>
<line x1="589.00" y1="364.10" x2="595.40" y2="364.10" stroke="#000" stroke-width="2.3"/>
<rect x="634.40" y="337.30" width="15.00" height="140.00" fill="#00ff00" stroke="#000" stroke-width="1.25"/>
<rect x="649.40" y="425.20" width="15.00" height="52.10" fill="#fff" stroke="#000" stroke-width="1.25"/>
<line x1="638.70" y1="337.30" x2="645.10" y2="337.30" stroke="#000" stroke-width="2.3"/>
<rect x="684.30" y="355.00" width="15.00" height="122.30" fill="#00ff00" stroke="#000" stroke-width="1.25"/>
<rect x="699.30" y="458.00" width="15.00" height="19.30" fill="#fff" stroke="#000" stroke-width="1.25"/>
<line x1="703.60" y1="458.00" x2="710.00" y2="458.00" stroke="#000" stroke-width="2.1"/>
<rect x="734.10" y="278.70" width="15.00" height="198.60" fill="#00ff00" stroke="#000" stroke-width="1.25"/>
<rect x="749.10" y="384.80" width="15.00" height="92.50" fill="#fff" stroke="#000" stroke-width="1.25"/>
<clipPath id="cpD"><rect x="459.0" y="246.8" width="330.5" height="230.5"/></clipPath>
<g clip-path="url(#cpD)">
<text x="768.60" y="255.80" font-family="Liberation Sans, sans-serif" font-size="12" text-anchor="start" font-weight="normal" fill="#000" stroke="#000" stroke-width="0.55">D</text>
</g>
<line x1="459.00" y1="246.20" x2="459.00" y2="478.00" stroke="#000" stroke-width="1.35"/>
<line x1="455.20" y1="477.30" x2="790.00" y2="477.30" stroke="#000" stroke-width="1.35"/>
<line x1="455.20" y1="246.60" x2="790.10" y2="246.60" stroke="#333" stroke-width="1.25"/>
<line x1="789.50" y1="246.60" x2="789.50" y2="477.30" stroke="#333" stroke-width="1.25"/>
<line x1="455.00" y1="419.50" x2="459.00" y2="419.50" stroke="#000" stroke-width="1.0"/>
<line x1="455.00" y1="362.50" x2="459.00" y2="362.50" stroke="#000" stroke-width="1.0"/>
<line x1="455.00" y1="304.50" x2="459.00" y2="304.50" stroke="#000" stroke-width="1.0"/>
<text x="450.20" y="480.40" font-family="Liberation Sans, sans-serif" font-size="8.8" text-anchor="end" font-weight="normal" fill="#111" stroke="#111" stroke-width="0.42">0</text>
<text x="450.20" y="422.78" font-family="Liberation Sans, sans-serif" font-size="8.8" text-anchor="end" font-weight="normal" fill="#111" stroke="#111" stroke-width="0.42">1</text>
<text x="450.20" y="365.16" font-family="Liberation Sans, sans-serif" font-size="8.8" text-anchor="end" font-weight="normal" fill="#111" stroke="#111" stroke-width="0.42">2</text>
<text x="450.20" y="307.54" font-family="Liberation Sans, sans-serif" font-size="8.8" text-anchor="end" font-weight="normal" fill="#111" stroke="#111" stroke-width="0.42">3</text>
<text x="450.20" y="249.22" font-family="Liberation Sans, sans-serif" font-size="8.8" text-anchor="end" font-weight="normal" fill="#111" stroke="#111" stroke-width="0.42">4</text>
<line x1="499.60" y1="477.30" x2="499.60" y2="481.60" stroke="#000" stroke-width="1.15"/>
<line x1="549.40" y1="477.30" x2="549.40" y2="481.60" stroke="#000" stroke-width="1.15"/>
<line x1="599.70" y1="477.30" x2="599.70" y2="481.60" stroke="#000" stroke-width="1.15"/>
<line x1="649.40" y1="477.30" x2="649.40" y2="481.60" stroke="#000" stroke-width="1.15"/>
<line x1="699.30" y1="477.30" x2="699.30" y2="481.60" stroke="#000" stroke-width="1.15"/>
<line x1="749.10" y1="477.30" x2="749.10" y2="481.60" stroke="#000" stroke-width="1.15"/>
<rect x="459.00" y="246.80" width="70.10" height="35.50" fill="#fff" stroke="#000" stroke-width="1.1"/>
<rect x="465.70" y="255.50" width="21.30" height="7.00" fill="#00ff00" stroke="#000" stroke-width="1.0"/>
<rect x="465.70" y="266.80" width="21.30" height="7.10" fill="#fff" stroke="#000" stroke-width="1.0"/>
<text x="491.60" y="262.10" font-family="Liberation Sans, sans-serif" font-size="9.5" text-anchor="start" font-weight="normal" fill="#111" stroke="#111" stroke-width="0.42">Leaves</text>
<text x="491.60" y="272.80" font-family="Liberation Sans, sans-serif" font-size="9.5" text-anchor="start" font-weight="normal" fill="#111" stroke="#111" stroke-width="0.42">Roots</text>
<line x1="458.50" y1="247.10" x2="529.60" y2="247.10" stroke="#000" stroke-width="2.0"/>
<text x="494.00" y="410.60" font-family="Liberation Sans, sans-serif" font-size="8.3" text-anchor="middle" font-weight="normal" fill="#111" stroke="#111" stroke-width="0.42">e</text>
<text x="544.80" y="410.60" font-family="Liberation Sans, sans-serif" font-size="8.3" text-anchor="middle" font-weight="normal" fill="#111" stroke="#111" stroke-width="0.42">e</text>
<text x="594.60" y="360.90" font-family="Liberation Sans, sans-serif" font-size="8.3" text-anchor="middle" font-weight="normal" fill="#111" stroke="#111" stroke-width="0.42">d</text>
<text x="645.30" y="327.90" font-family="Liberation Sans, sans-serif" font-size="8.3" text-anchor="middle" font-weight="normal" fill="#111" stroke="#111" stroke-width="0.42">b</text>
<text x="690.50" y="344.60" font-family="Liberation Sans, sans-serif" font-size="8.3" text-anchor="middle" font-weight="normal" fill="#111" stroke="#111" stroke-width="0.42">c</text>
<text x="740.30" y="277.40" font-family="Liberation Sans, sans-serif" font-size="8.3" text-anchor="middle" font-weight="normal" fill="#111" stroke="#111" stroke-width="0.42">a</text>
<text x="510.30" y="458.80" font-family="Liberation Sans, sans-serif" font-size="8.3" text-anchor="middle" font-weight="normal" fill="#111" stroke="#111" stroke-width="0.42">f</text>
<text x="560.00" y="443.60" font-family="Liberation Sans, sans-serif" font-size="8.3" text-anchor="middle" font-weight="normal" fill="#111" stroke="#111" stroke-width="0.42">d</text>
<text x="609.80" y="443.60" font-family="Liberation Sans, sans-serif" font-size="8.3" text-anchor="middle" font-weight="normal" fill="#111" stroke="#111" stroke-width="0.42">c</text>
<text x="659.00" y="410.60" font-family="Liberation Sans, sans-serif" font-size="8.3" text-anchor="middle" font-weight="normal" fill="#111" stroke="#111" stroke-width="0.42">b</text>
<text x="708.80" y="442.50" font-family="Liberation Sans, sans-serif" font-size="8.3" text-anchor="middle" font-weight="normal" fill="#111" stroke="#111" stroke-width="0.42">e</text>
<text x="759.00" y="377.60" font-family="Liberation Sans, sans-serif" font-size="8.3" text-anchor="middle" font-weight="normal" fill="#111" stroke="#111" stroke-width="0.42">a</text>
<text x="490.00" y="497.60" font-family="Liberation Serif, serif" font-size="12.3" text-anchor="middle" font-weight="normal" fill="#111" stroke="#111" stroke-width="0.32" textLength="37.6" lengthAdjust="spacing">Control</text>
<g transform="translate(538.40 496.60) scale(1 1.12)">
<text x="0.00" y="0.00" font-family="Liberation Serif, serif" font-size="12.3" text-anchor="middle" font-weight="normal" fill="#111" stroke="#111" stroke-width="0.32">10</text>
</g>
<g transform="translate(589.20 498.00) scale(1 1.12)">
<text x="0.00" y="0.00" font-family="Liberation Serif, serif" font-size="12.3" text-anchor="middle" font-weight="normal" fill="#111" stroke="#111" stroke-width="0.32">30</text>
</g>
<g transform="translate(638.20 497.60) scale(1 1.12)">
<text x="0.00" y="0.00" font-family="Liberation Serif, serif" font-size="12.3" text-anchor="middle" font-weight="normal" fill="#111" stroke="#111" stroke-width="0.32">50</text>
</g>
<g transform="translate(689.00 497.60) scale(1 1.12)">
<text x="0.00" y="0.00" font-family="Liberation Serif, serif" font-size="12.3" text-anchor="middle" font-weight="normal" fill="#111" stroke="#111" stroke-width="0.32">70</text>
</g>
<g transform="translate(739.30 497.60) scale(1 1.12)">
<text x="0.00" y="0.00" font-family="Liberation Serif, serif" font-size="12.3" text-anchor="middle" font-weight="normal" fill="#111" stroke="#111" stroke-width="0.32">100</text>
</g>
<text x="417.80" y="394.70" font-family="Liberation Serif, serif" font-size="12.5" text-anchor="start" font-weight="normal" fill="#111" stroke="#111" stroke-width="0.22" transform="rotate(-90 417.80 394.70)" textLength="72.2" lengthAdjust="spacing">MDA Content</text>
<text x="439.00" y="425.00" font-family="Liberation Serif, serif" font-size="12.5" text-anchor="start" font-weight="normal" fill="#111" stroke="#111" stroke-width="0.22" transform="rotate(-90 439.00 425.00)" textLength="127.5" lengthAdjust="spacing">(nmol g<tspan font-size="98%" dy="-6.4">-1</tspan><tspan dy="6.4">&#8203;</tspan> Fwt of Tissue)</text>
<text x="544.50" y="511.00" font-family="Liberation Serif, serif" font-size="12.3" text-anchor="start" font-weight="normal" fill="#111" stroke="#111" stroke-width="0.32" textLength="192.7" lengthAdjust="spacing">CdCl<tspan font-size="100%" dy="3.4">2</tspan><tspan dy="-3.4">&#8203;</tspan> Concentration (in Micromolar)</text>
<rect x="231.40" y="616.00" width="13.00" height="150.10" fill="#00ff00" stroke="#000" stroke-width="1.25"/>
<rect x="244.40" y="727.80" width="13.00" height="38.30" fill="#fff" stroke="#000" stroke-width="1.25"/>
<line x1="237.90" y1="610.80" x2="237.90" y2="621.20" stroke="#000" stroke-width="1.15"/>
<line x1="235.10" y1="610.80" x2="240.70" y2="610.80" stroke="#000" stroke-width="1.0"/>
<line x1="235.10" y1="621.20" x2="240.70" y2="621.20" stroke="#000" stroke-width="1.0"/>
<rect x="274.30" y="582.60" width="13.00" height="183.50" fill="#00ff00" stroke="#000" stroke-width="1.25"/>
<rect x="287.30" y="761.10" width="13.00" height="5.00" fill="#fff" stroke="#000" stroke-width="1.25"/>
<line x1="278.00" y1="582.60" x2="283.60" y2="582.60" stroke="#000" stroke-width="2.3"/>
<line x1="291.00" y1="761.10" x2="296.60" y2="761.10" stroke="#000" stroke-width="2.3"/>
<rect x="317.10" y="595.30" width="13.00" height="170.80" fill="#00ff00" stroke="#000" stroke-width="1.25"/>
<rect x="330.10" y="574.30" width="13.00" height="191.80" fill="#fff" stroke="#000" stroke-width="1.25"/>
<line x1="336.60" y1="571.80" x2="336.60" y2="576.80" stroke="#000" stroke-width="1.15"/>
<line x1="333.80" y1="571.80" x2="339.40" y2="571.80" stroke="#000" stroke-width="1.0"/>
<line x1="333.80" y1="576.80" x2="339.40" y2="576.80" stroke="#000" stroke-width="1.0"/>
<rect x="359.30" y="626.60" width="13.00" height="139.50" fill="#00ff00" stroke="#000" stroke-width="1.25"/>
<rect x="372.30" y="705.60" width="13.00" height="60.50" fill="#fff" stroke="#000" stroke-width="1.25"/>
<line x1="363.00" y1="626.60" x2="368.60" y2="626.60" stroke="#000" stroke-width="2.3"/>
<line x1="376.00" y1="705.60" x2="381.60" y2="705.60" stroke="#000" stroke-width="2.5"/>
<rect x="402.70" y="634.90" width="13.00" height="131.20" fill="#00ff00" stroke="#000" stroke-width="1.25"/>
<rect x="415.70" y="734.40" width="13.00" height="31.70" fill="#fff" stroke="#000" stroke-width="1.25"/>
<line x1="406.40" y1="634.90" x2="412.00" y2="634.90" stroke="#000" stroke-width="2.5"/>
<line x1="422.20" y1="732.70" x2="422.20" y2="736.10" stroke="#000" stroke-width="1.15"/>
<line x1="419.40" y1="732.70" x2="425.00" y2="732.70" stroke="#000" stroke-width="1.0"/>
<line x1="419.40" y1="736.10" x2="425.00" y2="736.10" stroke="#000" stroke-width="1.0"/>
<rect x="445.90" y="615.20" width="13.00" height="150.90" fill="#00ff00" stroke="#000" stroke-width="1.25"/>
<rect x="458.90" y="666.00" width="13.00" height="100.10" fill="#fff" stroke="#000" stroke-width="1.25"/>
<line x1="449.60" y1="615.20" x2="455.20" y2="615.20" stroke="#000" stroke-width="2.5"/>
<line x1="465.40" y1="663.00" x2="465.40" y2="669.00" stroke="#000" stroke-width="1.15"/>
<line x1="462.60" y1="663.00" x2="468.20" y2="663.00" stroke="#000" stroke-width="1.0"/>
<line x1="462.60" y1="669.00" x2="468.20" y2="669.00" stroke="#000" stroke-width="1.0"/>
<rect x="488.80" y="599.80" width="13.00" height="166.30" fill="#00ff00" stroke="#000" stroke-width="1.25"/>
<rect x="501.80" y="720.80" width="13.00" height="45.30" fill="#fff" stroke="#000" stroke-width="1.25"/>
<line x1="492.50" y1="599.80" x2="498.10" y2="599.80" stroke="#000" stroke-width="2.3"/>
<line x1="505.50" y1="720.80" x2="511.10" y2="720.80" stroke="#000" stroke-width="2.5"/>
<clipPath id="cpE"><rect x="207.3" y="534.3" width="331.3" height="231.8"/></clipPath>
<g clip-path="url(#cpE)">
<text x="217.00" y="547.30" font-family="Liberation Sans, sans-serif" font-size="12.3" text-anchor="start" font-weight="bold" fill="#000" stroke="#000" stroke-width="0">E</text>
</g>
<line x1="207.30" y1="533.70" x2="207.30" y2="766.80" stroke="#000" stroke-width="1.35"/>
<line x1="203.50" y1="766.10" x2="539.10" y2="766.10" stroke="#000" stroke-width="1.35"/>
<line x1="203.50" y1="534.10" x2="539.20" y2="534.10" stroke="#333" stroke-width="1.25"/>
<line x1="538.60" y1="534.10" x2="538.60" y2="766.10" stroke="#333" stroke-width="1.25"/>
<line x1="203.30" y1="708.50" x2="207.30" y2="708.50" stroke="#000" stroke-width="1.0"/>
<line x1="203.30" y1="650.50" x2="207.30" y2="650.50" stroke="#000" stroke-width="1.0"/>
<line x1="203.30" y1="592.50" x2="207.30" y2="592.50" stroke="#000" stroke-width="1.0"/>
<text x="198.50" y="769.20" font-family="Liberation Sans, sans-serif" font-size="9.3" text-anchor="end" font-weight="normal" fill="#111" stroke="#111" stroke-width="0.42">0.00</text>
<text x="198.50" y="711.18" font-family="Liberation Sans, sans-serif" font-size="9.3" text-anchor="end" font-weight="normal" fill="#111" stroke="#111" stroke-width="0.42">0.02</text>
<text x="198.50" y="653.16" font-family="Liberation Sans, sans-serif" font-size="9.3" text-anchor="end" font-weight="normal" fill="#111" stroke="#111" stroke-width="0.42">0.04</text>
<text x="198.50" y="595.14" font-family="Liberation Sans, sans-serif" font-size="9.3" text-anchor="end" font-weight="normal" fill="#111" stroke="#111" stroke-width="0.42">0.06</text>
<text x="198.50" y="536.42" font-family="Liberation Sans, sans-serif" font-size="9.3" text-anchor="end" font-weight="normal" fill="#111" stroke="#111" stroke-width="0.42">0.08</text>
<line x1="244.40" y1="766.10" x2="244.40" y2="770.40" stroke="#000" stroke-width="1.15"/>
<line x1="287.30" y1="766.10" x2="287.30" y2="770.40" stroke="#000" stroke-width="1.15"/>
<line x1="330.10" y1="766.10" x2="330.10" y2="770.40" stroke="#000" stroke-width="1.15"/>
<line x1="372.30" y1="766.10" x2="372.30" y2="770.40" stroke="#000" stroke-width="1.15"/>
<line x1="415.70" y1="766.10" x2="415.70" y2="770.40" stroke="#000" stroke-width="1.15"/>
<line x1="458.90" y1="766.10" x2="458.90" y2="770.40" stroke="#000" stroke-width="1.15"/>
<line x1="501.80" y1="766.10" x2="501.80" y2="770.40" stroke="#000" stroke-width="1.15"/>
<rect x="469.20" y="536.40" width="69.30" height="34.90" fill="#fff" stroke="#000" stroke-width="1.1"/>
<rect x="475.90" y="545.00" width="21.30" height="6.40" fill="#00ff00" stroke="#000" stroke-width="1.0"/>
<rect x="475.90" y="556.30" width="21.30" height="6.50" fill="#fff" stroke="#000" stroke-width="1.0"/>
<text x="501.00" y="550.60" font-family="Liberation Sans, sans-serif" font-size="9.5" text-anchor="start" font-weight="normal" fill="#111" stroke="#111" stroke-width="0.42">Leaves</text>
<text x="501.00" y="562.20" font-family="Liberation Sans, sans-serif" font-size="9.5" text-anchor="start" font-weight="normal" fill="#111" stroke="#111" stroke-width="0.42">Roots</text>
<text x="229.70" y="608.10" font-family="Liberation Sans, sans-serif" font-size="8.3" text-anchor="middle" font-weight="normal" fill="#111" stroke="#111" stroke-width="0.42">e</text>
<text x="280.00" y="575.30" font-family="Liberation Sans, sans-serif" font-size="8.3" text-anchor="middle" font-weight="normal" fill="#111" stroke="#111" stroke-width="0.42">a</text>
<text x="314.30" y="592.30" font-family="Liberation Sans, sans-serif" font-size="8.3" text-anchor="middle" font-weight="normal" fill="#111" stroke="#111" stroke-width="0.42">b</text>
<text x="361.70" y="623.90" font-family="Liberation Sans, sans-serif" font-size="8.3" text-anchor="middle" font-weight="normal" fill="#111" stroke="#111" stroke-width="0.42">f</text>
<text x="412.80" y="625.90" font-family="Liberation Sans, sans-serif" font-size="8.3" text-anchor="middle" font-weight="normal" fill="#111" stroke="#111" stroke-width="0.42">g</text>
<text x="445.70" y="609.40" font-family="Liberation Sans, sans-serif" font-size="8.3" text-anchor="middle" font-weight="normal" fill="#111" stroke="#111" stroke-width="0.42">d</text>
<text x="495.00" y="592.30" font-family="Liberation Sans, sans-serif" font-size="8.3" text-anchor="middle" font-weight="normal" fill="#111" stroke="#111" stroke-width="0.42">c</text>
<text x="246.80" y="724.90" font-family="Liberation Sans, sans-serif" font-size="8.3" text-anchor="middle" font-weight="normal" fill="#111" stroke="#111" stroke-width="0.42">e</text>
<text x="295.40" y="757.90" font-family="Liberation Sans, sans-serif" font-size="8.3" text-anchor="middle" font-weight="normal" fill="#111" stroke="#111" stroke-width="0.42">g</text>
<text x="330.80" y="558.90" font-family="Liberation Sans, sans-serif" font-size="8.3" text-anchor="middle" font-weight="normal" fill="#111" stroke="#111" stroke-width="0.42">a</text>
<text x="378.00" y="691.90" font-family="Liberation Sans, sans-serif" font-size="8.3" text-anchor="middle" font-weight="normal" fill="#111" stroke="#111" stroke-width="0.42">c</text>
<text x="428.00" y="724.90" font-family="Liberation Sans, sans-serif" font-size="8.3" text-anchor="middle" font-weight="normal" fill="#111" stroke="#111" stroke-width="0.42">f</text>
<text x="462.70" y="659.20" font-family="Liberation Sans, sans-serif" font-size="8.3" text-anchor="middle" font-weight="normal" fill="#111" stroke="#111" stroke-width="0.42">b</text>
<text x="510.70" y="710.40" font-family="Liberation Sans, sans-serif" font-size="8.3" text-anchor="middle" font-weight="normal" fill="#111" stroke="#111" stroke-width="0.42">d</text>
<text x="248.80" y="778.20" font-family="Liberation Serif, serif" font-size="12.3" text-anchor="middle" font-weight="normal" fill="#111" stroke="#111" stroke-width="0.32" textLength="37.6" lengthAdjust="spacing">Control</text>
<g transform="translate(291.00 777.60) scale(1 1.12)">
<text x="0.00" y="0.00" font-family="Liberation Serif, serif" font-size="12.3" text-anchor="middle" font-weight="normal" fill="#111" stroke="#111" stroke-width="0.32">0.1</text>
</g>
<g transform="translate(334.70 777.60) scale(1 1.12)">
<text x="0.00" y="0.00" font-family="Liberation Serif, serif" font-size="12.3" text-anchor="middle" font-weight="normal" fill="#111" stroke="#111" stroke-width="0.32">0.5</text>
</g>
<g transform="translate(376.20 776.30) scale(1 1.12)">
<text x="0.00" y="0.00" font-family="Liberation Serif, serif" font-size="12.3" text-anchor="middle" font-weight="normal" fill="#111" stroke="#111" stroke-width="0.32">1.0</text>
</g>
<g transform="translate(419.00 776.30) scale(1 1.12)">
<text x="0.00" y="0.00" font-family="Liberation Serif, serif" font-size="12.3" text-anchor="middle" font-weight="normal" fill="#111" stroke="#111" stroke-width="0.32">5.0</text>
</g>
<g transform="translate(461.30 778.20) scale(1 1.12)">
<text x="0.00" y="0.00" font-family="Liberation Serif, serif" font-size="12.3" text-anchor="middle" font-weight="normal" fill="#111" stroke="#111" stroke-width="0.32">10</text>
</g>
<g transform="translate(503.40 778.20) scale(1 1.12)">
<text x="0.00" y="0.00" font-family="Liberation Serif, serif" font-size="12.3" text-anchor="middle" font-weight="normal" fill="#111" stroke="#111" stroke-width="0.32">20</text>
</g>
<text x="150.70" y="720.00" font-family="Liberation Serif, serif" font-size="12.5" text-anchor="start" font-weight="normal" fill="#111" stroke="#111" stroke-width="0.22" transform="rotate(-90 150.70 720.00)" textLength="147.7" lengthAdjust="spacing">Heme oxygenease 1 Activity</text>
<text x="170.90" y="746.80" font-family="Liberation Serif, serif" font-size="12.5" text-anchor="start" font-weight="normal" fill="#111" stroke="#111" stroke-width="0.22" transform="rotate(-90 170.90 746.80)" textLength="192.7" lengthAdjust="spacing">(&#181;M biliverdin reduced mg<tspan font-size="98%" dy="-6.4">-1</tspan><tspan dy="6.4">&#8203;</tspan> Protein)</text>
<text x="301.20" y="793.00" font-family="Liberation Serif, serif" font-size="12.3" text-anchor="start" font-weight="normal" fill="#111" stroke="#111" stroke-width="0.32" textLength="141.6" lengthAdjust="spacing">Hemin Concentration (mM)</text>
</svg>
</body></html>
